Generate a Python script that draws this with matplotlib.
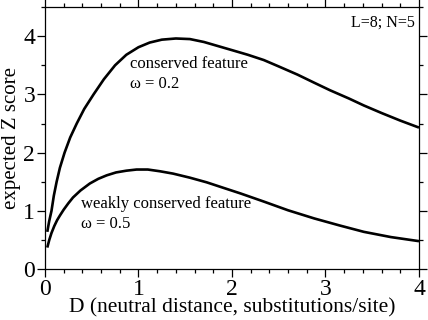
import matplotlib
matplotlib.use("Agg")
import matplotlib.pyplot as plt
from matplotlib.ticker import MultipleLocator

# Data
D_cons = [0.025, 0.045, 0.07, 0.095, 0.125, 0.16, 0.21, 0.27, 0.34, 0.42, 0.52, 0.63, 0.75, 0.87, 1.00, 1.12, 1.25, 1.40, 1.55, 1.70, 1.85, 2.00, 2.17, 2.34, 2.50, 2.70, 2.88, 3.05, 3.25, 3.41, 3.60, 3.80, 4.00]
Z_cons = [0.64, 0.82, 1.00, 1.26, 1.50, 1.74, 2.00, 2.26, 2.50, 2.75, 3.00, 3.26, 3.50, 3.68, 3.81, 3.89, 3.94, 3.96, 3.95, 3.90, 3.83, 3.76, 3.68, 3.59, 3.48, 3.34, 3.20, 3.07, 2.93, 2.81, 2.68, 2.55, 2.43]
D_weak = [0.025, 0.046, 0.07, 0.10, 0.13, 0.16, 0.20, 0.25, 0.30, 0.38, 0.48, 0.57, 0.66, 0.76, 0.87, 0.98, 1.10, 1.23, 1.37, 1.55, 1.73, 1.90, 2.09, 2.34, 2.60, 2.88, 3.15, 3.41, 3.70, 4.00]
Z_weak = [0.37, 0.50, 0.62, 0.74, 0.84, 0.92, 1.02, 1.13, 1.23, 1.35, 1.47, 1.55, 1.61, 1.66, 1.69, 1.71, 1.71, 1.68, 1.64, 1.57, 1.49, 1.40, 1.30, 1.16, 1.01, 0.87, 0.75, 0.64, 0.55, 0.48]

xlabel = "D (neutral distance, substitutions/site)"
ylabel = "expected Z score"
label_cons = "conserved feature\nω = 0.2"
label_weak = "weakly conserved feature\nω = 0.5"
corner = "L=8; N=5"

plt.rcParams['font.family'] = ['Liberation Serif', 'DejaVu Serif']

fig = plt.figure(figsize=(4.28, 3.2), dpi=100)
ax = fig.add_axes([0.105, 0.159, 0.874, 0.819])

ax.plot(D_cons, Z_cons, color='black', lw=1.9, solid_capstyle='butt', solid_joinstyle='round')
ax.plot(D_weak, Z_weak, color='black', lw=1.9, solid_capstyle='butt', solid_joinstyle='round')

ax.set_xlim(0, 4)
ax.set_ylim(0, 4.5)
ax.xaxis.set_major_locator(MultipleLocator(1))
ax.xaxis.set_minor_locator(MultipleLocator(0.2))
ax.yaxis.set_major_locator(MultipleLocator(1))
ax.yaxis.set_minor_locator(MultipleLocator(0.5))
ax.tick_params(which='both', direction='out', top=True, right=True,
               labeltop=False, labelright=False, width=0.9, color='black')
ax.tick_params(which='major', length=6, labelsize=17, pad=1)
ax.tick_params(which='minor', length=3)
for s in ax.spines.values():
    s.set_linewidth(0.9)

ax.set_xlabel(xlabel, fontsize=15.5, labelpad=-1)
ax.set_ylabel(ylabel, fontsize=15, labelpad=2)

ax.text(0.91, 3.35, label_cons, fontsize=12, ha='left', va='center', linespacing=1.3)
ax.text(0.385, 0.95, label_weak, fontsize=12, ha='left', va='center', linespacing=1.3)
ax.text(0.99, 0.972, corner, transform=ax.transAxes, fontsize=11.5, ha='right', va='top')

fig.savefig("out.png", dpi=100)
